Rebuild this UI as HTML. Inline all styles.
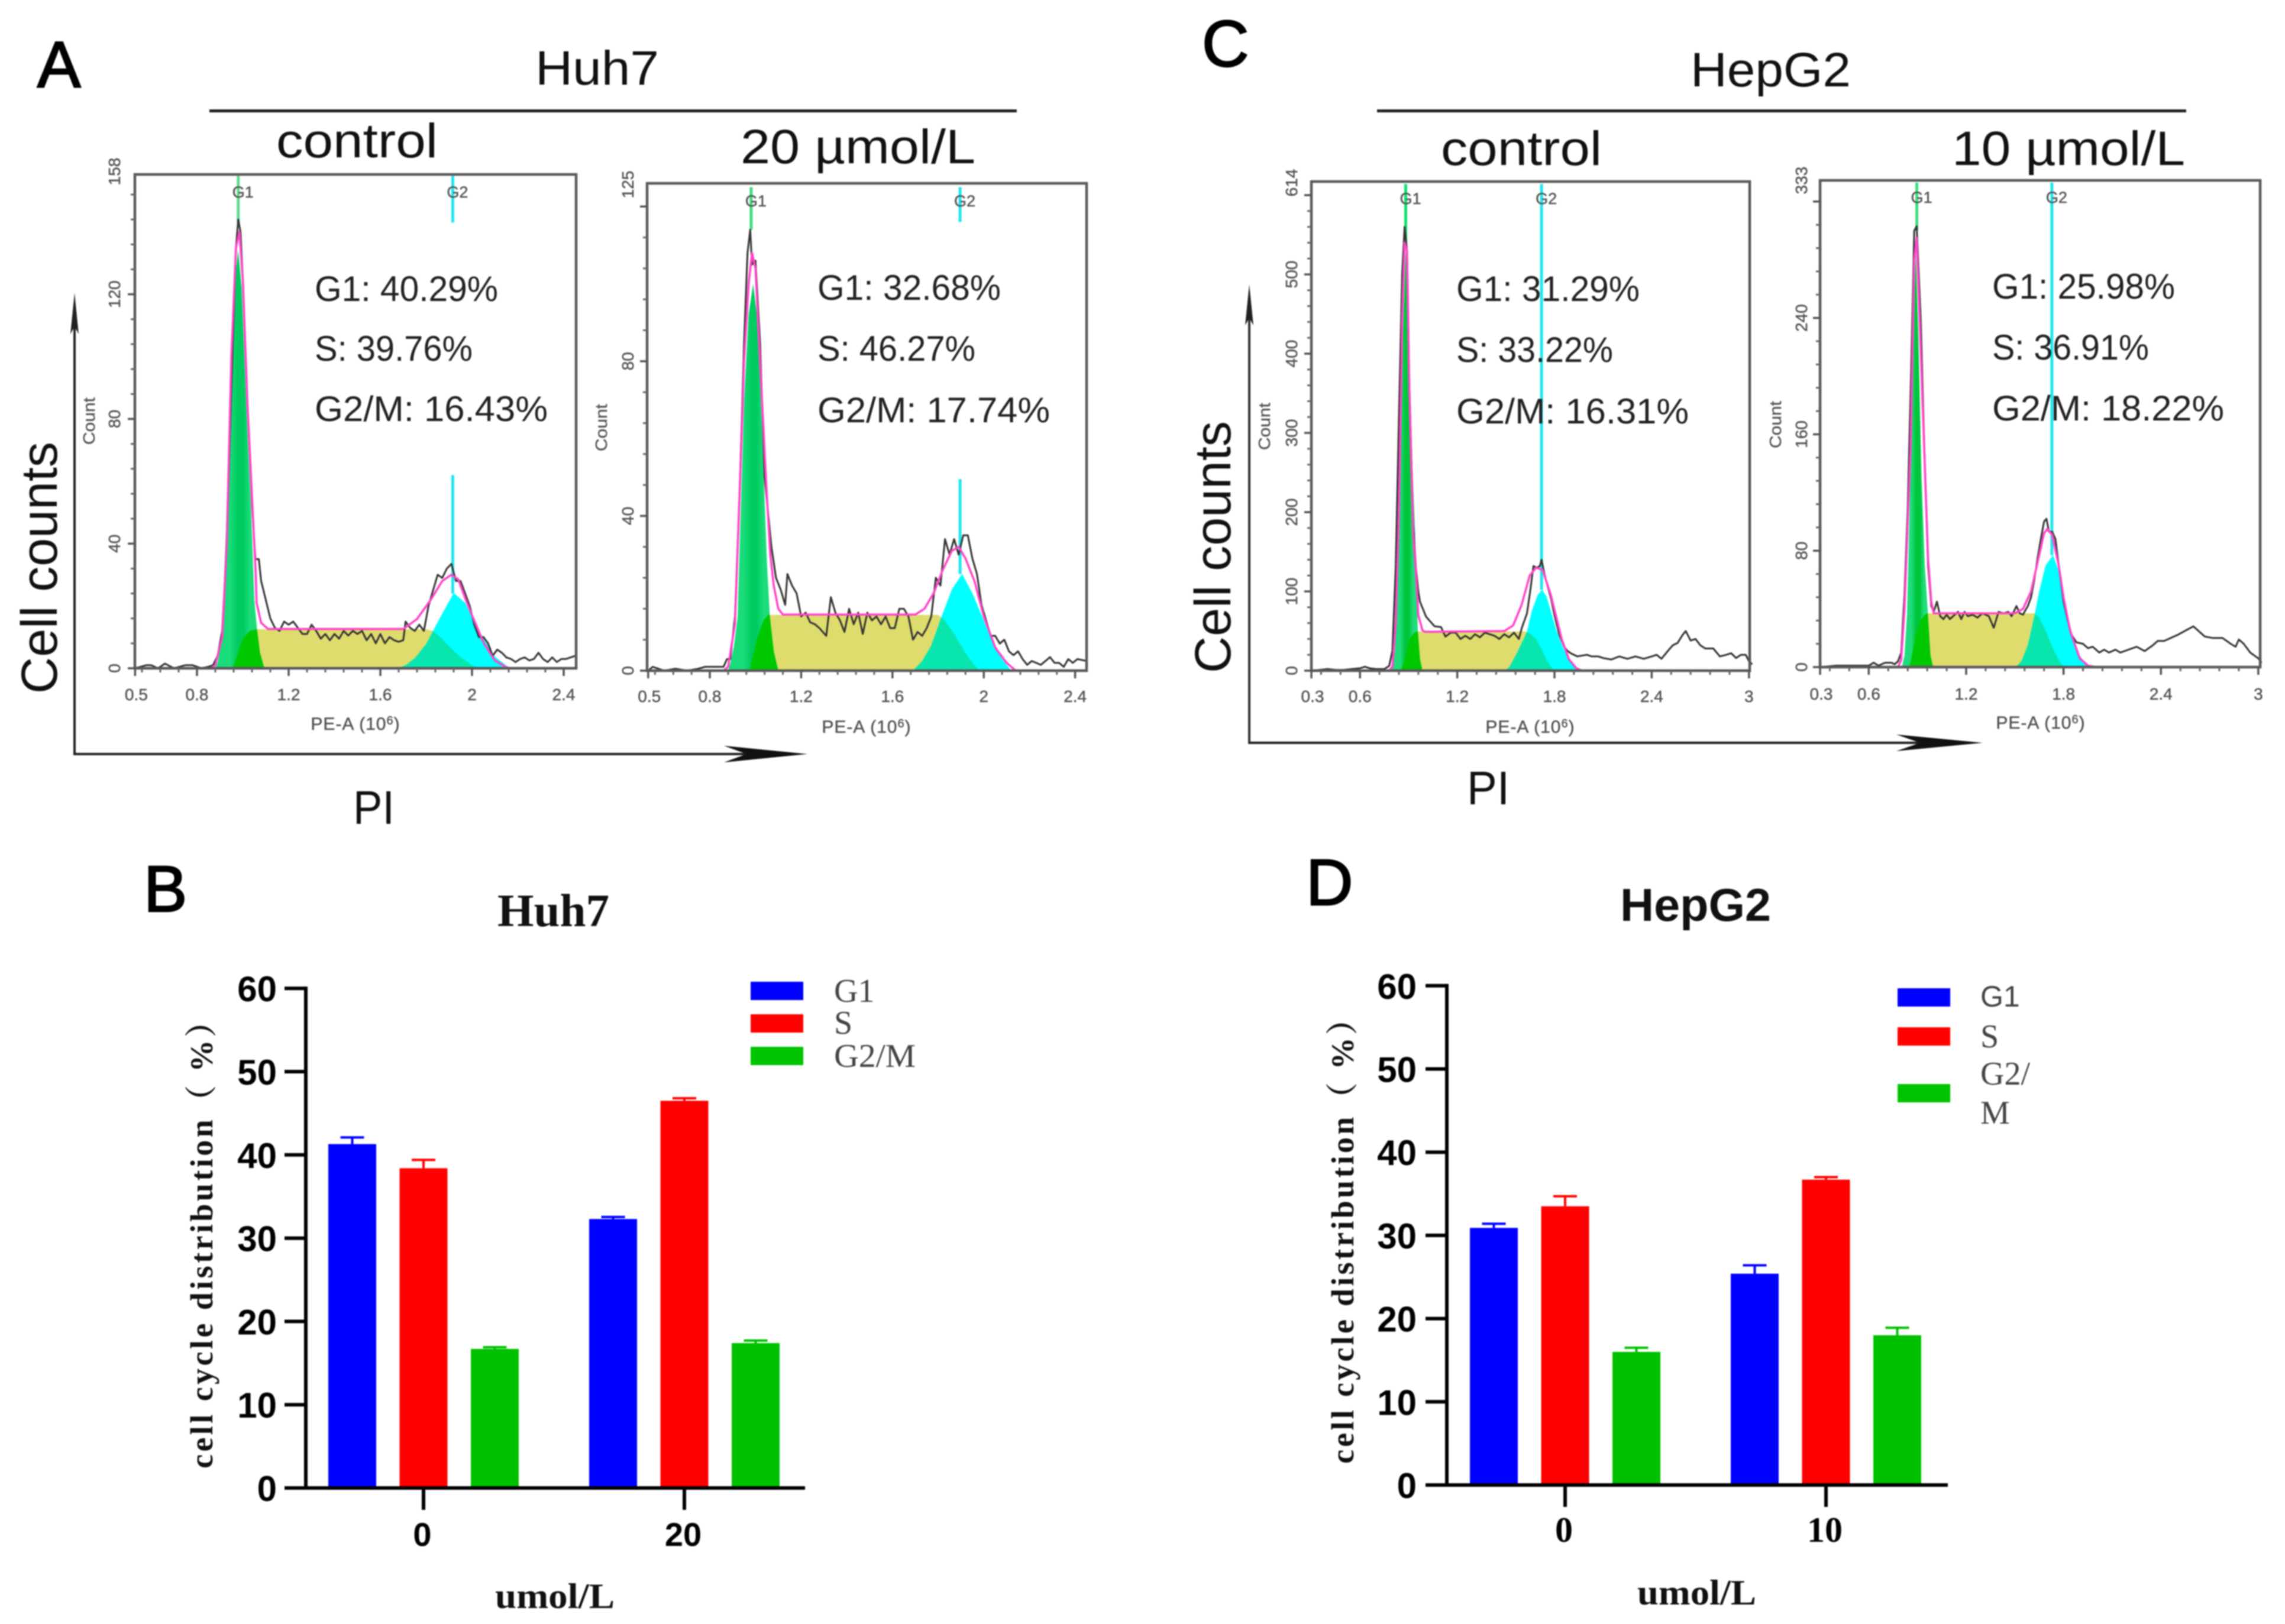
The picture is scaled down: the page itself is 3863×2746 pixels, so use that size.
<!DOCTYPE html>
<html lang="en">
<head>
<meta charset="utf-8">
<title>Cell cycle distribution in Huh7 and HepG2 cells</title>
<style>
html,body{margin:0;padding:0;background:#fff;}
#figure{display:block;width:3863px;height:2746px;background:#fff;filter:blur(1.1px);}
text{font-family:"Liberation Sans","Noto Sans CJK SC",sans-serif;}
.serif{font-family:"Liberation Serif","Noto Serif CJK SC",serif;font-weight:700;}
.annot{font-size:60px;fill:#222;}
.head{font-size:82px;fill:#111;}
.big{font-size:86px;fill:#111;}
.letter{font-size:110px;fill:#000;stroke:#000;stroke-width:2.5px;}
.peax{font-size:30px;fill:#555;letter-spacing:1px;stroke:#555;stroke-width:.5px;}
.count{font-size:28px;fill:#555;stroke:#555;stroke-width:.4px;}
.flowtick{fill:#555;stroke:#555;stroke-width:.5px;}
.bold{font-weight:700;fill:#000;}
.legend{font-size:56px;fill:#444;}
</style>
</head>
<body>
<svg id="figure" xmlns="http://www.w3.org/2000/svg" width="3863" height="2746" viewBox="0 0 3863 2746">
  <rect width="3863" height="2746" fill="#fff"/>

  <g id="flowLayer"></g>
  <g id="barLayer"></g>

  <!-- Panel letters -->
  <text class="letter" x="63" y="147">A</text>
  <text class="letter" x="243" y="1541">B</text>
  <text class="letter" x="2032" y="112">C</text>
  <text class="letter" x="2208" y="1530">D</text>

  <!-- Panel A heading -->
  <text class="head" x="905" y="143" textLength="209" lengthAdjust="spacingAndGlyphs">Huh7</text>
  <rect x="354" y="185" width="1365" height="5" fill="#222"/>
  <text class="head" x="467" y="266" textLength="273" lengthAdjust="spacingAndGlyphs">control</text>
  <text class="head" x="1252" y="276" textLength="397" lengthAdjust="spacingAndGlyphs">20 µmol/L</text>

  <!-- Panel C heading -->
  <text class="head" x="2858" y="146" textLength="271" lengthAdjust="spacingAndGlyphs">HepG2</text>
  <rect x="2328" y="185" width="1368" height="5" fill="#222"/>
  <text class="head" x="2436" y="279" textLength="272" lengthAdjust="spacingAndGlyphs">control</text>
  <text class="head" x="3300" y="279" textLength="394" lengthAdjust="spacingAndGlyphs">10 µmol/L</text>

  <!-- Percent annotations -->
  <g>
    <text class="annot" x="532" y="509" textLength="310" lengthAdjust="spacingAndGlyphs">G1: 40.29%</text>
    <text class="annot" x="532" y="610" textLength="267" lengthAdjust="spacingAndGlyphs">S: 39.76%</text>
    <text class="annot" x="532" y="712" textLength="394" lengthAdjust="spacingAndGlyphs">G2/M: 16.43%</text>
  </g>
  <g>
    <text class="annot" x="1382" y="507" textLength="310" lengthAdjust="spacingAndGlyphs">G1: 32.68%</text>
    <text class="annot" x="1382" y="610" textLength="267" lengthAdjust="spacingAndGlyphs">S: 46.27%</text>
    <text class="annot" x="1382" y="714" textLength="393" lengthAdjust="spacingAndGlyphs">G2/M: 17.74%</text>
  </g>
  <g>
    <text class="annot" x="2462" y="509" textLength="310" lengthAdjust="spacingAndGlyphs">G1: 31.29%</text>
    <text class="annot" x="2462" y="612" textLength="265" lengthAdjust="spacingAndGlyphs">S: 33.22%</text>
    <text class="annot" x="2462" y="716" textLength="393" lengthAdjust="spacingAndGlyphs">G2/M: 16.31%</text>
  </g>
  <g>
    <text class="annot" x="3368" y="505" textLength="309" lengthAdjust="spacingAndGlyphs">G1: 25.98%</text>
    <text class="annot" x="3368" y="608" textLength="265" lengthAdjust="spacingAndGlyphs">S: 36.91%</text>
    <text class="annot" x="3368" y="711" textLength="392" lengthAdjust="spacingAndGlyphs">G2/M: 18.22%</text>
  </g>

  <!-- Outer arrows, panel A -->
  <g>
    <rect x="124" y="530" width="4" height="747" fill="#222"/>
    <polygon points="126,495 133,565 126,552 119,565" fill="#222"/>
    <rect x="126" y="1273" width="1150" height="4" fill="#222"/>
    <polygon points="1365,1275 1224,1289 1262,1275 1224,1261" fill="#111"/>
    <text class="big" transform="translate(96 1173) rotate(-90)" textLength="426" lengthAdjust="spacingAndGlyphs">Cell counts</text>
    <text x="597" y="1393" font-size="80" fill="#111" textLength="70" lengthAdjust="spacingAndGlyphs">PI</text>
  </g>

  <!-- Outer arrows, panel C -->
  <g>
    <rect x="2110" y="515" width="4" height="743" fill="#333"/>
    <polygon points="2112,481 2119,550 2112,538 2105,550" fill="#222"/>
    <rect x="2112" y="1254" width="1160" height="4" fill="#222"/>
    <polygon points="3352,1256 3206,1270 3246,1256 3206,1242" fill="#111"/>
    <text class="big" transform="translate(2080 1138) rotate(-90)" textLength="426" lengthAdjust="spacingAndGlyphs">Cell counts</text>
    <text x="2480" y="1360" font-size="80" fill="#111" textLength="72" lengthAdjust="spacingAndGlyphs">PI</text>
  </g>

  <!-- Panel B static labels -->
  <g>
    <text class="serif" x="841" y="1566" font-size="78" fill="#111" textLength="189" lengthAdjust="spacingAndGlyphs">Huh7</text>
    <text class="serif" transform="translate(359 2483) rotate(-90)" font-size="54" fill="#111" textLength="783" lengthAdjust="spacing">cell cycle distribution（ %）</text>
    <text class="serif" x="837" y="2719" font-size="60" fill="#111" textLength="202" lengthAdjust="spacingAndGlyphs">umol/L</text>
    <rect x="1269" y="1660" width="89" height="31" fill="#0000ff"/>
    <rect x="1269" y="1715" width="89" height="31" fill="#ff0000"/>
    <rect x="1269" y="1770" width="89" height="31" fill="#00c400"/>
    <text class="legend" x="1410" y="1694" style="font-family:'Liberation Serif',serif">G1</text>
    <text class="legend" x="1410" y="1748" style="font-family:'Liberation Serif',serif">S</text>
    <text class="legend" x="1410" y="1804" textLength="138" lengthAdjust="spacingAndGlyphs" style="font-family:'Liberation Serif',serif">G2/M</text>
  </g>

  <!-- Panel D static labels -->
  <g>
    <text x="2739" y="1557" font-size="78" font-weight="700" fill="#111" textLength="255" lengthAdjust="spacingAndGlyphs">HepG2</text>
    <text class="serif" transform="translate(2288 2475) rotate(-90)" font-size="54" fill="#111" textLength="779" lengthAdjust="spacing">cell cycle distribution（ %）</text>
    <text class="serif" x="2768" y="2713" font-size="60" fill="#111" textLength="201" lengthAdjust="spacingAndGlyphs">umol/L</text>
    <rect x="3208" y="1671" width="89" height="31" fill="#0000ff"/>
    <rect x="3208" y="1737" width="89" height="31" fill="#ff0000"/>
    <rect x="3208" y="1833" width="89" height="31" fill="#00c400"/>
    <text class="legend" x="3348" y="1702" style="font-size:50px">G1</text>
    <text class="legend" x="3348" y="1771" style="font-family:'Liberation Serif',serif">S</text>
    <text class="legend" x="3348" y="1834" style="font-family:'Liberation Serif',serif">G2/</text>
    <text class="legend" x="3348" y="1900" style="font-family:'Liberation Serif',serif">M</text>
  </g>
</svg>

<script>
/* ---------- Flow histogram data: [PE-A (10^6), count] ---------- */
const huh7CtrlTrace = [[.53,0],[.58,1],[.6,1],[.63,0],[.66,1.5],[.7,0],[.75,1],[.78,1],[.82,0],[.85,.5],[.87,1],[.89,4],[.91,12],[.93,40],[.95,90],[.97,135],[.98,144],[.99,140],[1,125],[1.02,85],[1.04,52],[1.055,35],[1.07,35],[1.08,28],[1.1,22],[1.12,16],[1.14,13],[1.16,12],[1.18,15],[1.2,14],[1.22,15],[1.24,13],[1.26,11],[1.28,11],[1.3,14],[1.32,12],[1.34,9.5],[1.36,11],[1.38,9],[1.4,11],[1.42,9.5],[1.44,12],[1.46,10.5],[1.48,12],[1.5,11],[1.52,12],[1.54,9],[1.56,11],[1.58,8],[1.6,11],[1.62,8],[1.64,10],[1.66,9],[1.68,8.5],[1.7,9],[1.71,15],[1.73,13],[1.75,12],[1.77,14],[1.79,12],[1.81,20],[1.83,25],[1.85,30],[1.87,29],[1.89,32],[1.91,33.5],[1.93,28],[1.95,28],[1.97,24],[1.99,20],[2.01,14],[2.03,10],[2.05,10],[2.07,8],[2.09,4],[2.11,6],[2.13,5],[2.15,3.5],[2.17,3],[2.19,2],[2.21,3],[2.23,3.5],[2.25,2.5],[2.27,3],[2.29,5],[2.31,3],[2.33,2],[2.35,3.5],[2.37,2],[2.39,3],[2.41,3],[2.45,4]];
const huh7CtrlFit = [[.53,0],[.86,0],[.88,1],[.91,10],[.93,40],[.95,100],[.97,135],[.985,140],[1,125],[1.02,85],[1.048,43],[1.056,31],[1.06,21],[1.08,14.6],[1.11,12.6],[1.7,12.6],[1.76,15.8],[1.82,22],[1.87,28],[1.91,30],[1.94,28.5],[1.97,22.5],[2,17],[2.05,8.2],[2.1,2.5],[2.15,.3],[2.17,0]];
const huh7CtrlG1 = [[.88,0],[.89,2],[.9,6],[.912,18],[.926,44],[.945,90],[.965,125],[.98,134],[.995,122],[1.015,85],[1.04,43],[1.05,22],[1.062,12.5],[1.075,5],[1.094,0]];
const huh7CtrlS = [[.955,0],[.97,3],[.985,6.5],[1,9.5],[1.03,12],[1.056,12.5],[1.8,12.5],[1.83,12],[1.87,9.5],[1.9,7],[1.948,3.7],[2,1],[2.03,0]];
const huh7CtrlG2 = [[1.678,0],[1.715,1.2],[1.752,3.4],[1.8,7.8],[1.83,12],[1.87,17.5],[1.92,24.2],[1.97,21],[2,16.5],[2.05,9.5],[2.1,3.7],[2.166,0]];
const huh7CtrlG1Gate = [[158,143]];
const huh7CtrlG2Gate = [[158,143],[62,24]];

const huh7DoseTrace = [[.53,0],[.55,1],[.6,0],[.65,.5],[.7,0],[.75,.5],[.78,1],[.82,1],[.86,1],[.875,3],[.89,3],[.91,14],[.93,45],[.95,85],[.965,108],[.977,114],[.985,105],[1,106],[1.02,85],[1.04,50],[1.05,44],[1.07,32],[1.09,24],[1.11,21],[1.13,17],[1.14,25],[1.16,22],[1.18,20],[1.2,14],[1.22,15],[1.24,12.5],[1.26,12],[1.28,11],[1.31,9],[1.33,19],[1.35,15],[1.37,13],[1.39,10],[1.41,16],[1.43,12],[1.45,15],[1.47,9.5],[1.49,15],[1.51,13],[1.53,14],[1.55,12],[1.57,14],[1.59,11],[1.61,11],[1.63,16],[1.65,16],[1.67,14],[1.69,8],[1.71,10],[1.73,9],[1.75,11],[1.77,14],[1.79,24],[1.81,22],[1.83,34],[1.85,30],[1.87,34],[1.89,30],[1.91,35],[1.93,35],[1.95,29],[1.97,25],[1.99,17],[2.01,13],[2.03,9],[2.05,9],[2.07,7],[2.09,8],[2.11,5],[2.13,4],[2.15,5],[2.17,3],[2.19,1.5],[2.21,2.5],[2.23,2],[2.25,1.5],[2.27,2.5],[2.29,3.5],[2.31,2],[2.33,2],[2.35,1],[2.37,3],[2.39,2],[2.41,3],[2.45,2.5]];
const huh7DoseFit = [[.53,0],[.86,0],[.88,1],[.91,12],[.93,45],[.95,80],[.97,100],[.985,108],[1,104],[1.02,80],[1.05,45],[1.065,30],[1.08,22],[1.1,16],[1.12,14.5],[1.7,14.5],[1.74,16],[1.78,20],[1.82,26],[1.86,31],[1.89,32],[1.92,29],[1.96,23],[2,14],[2.05,6],[2.1,2],[2.14,0]];
const huh7DoseG1 = [[.88,0],[.89,2],[.905,6],[.922,14],[.935,40],[.95,70],[.97,92],[.99,100],[1.01,90],[1.03,60],[1.05,28],[1.063,14],[1.08,5],[1.1,0]];
const huh7DoseS = [[.975,0],[.99,4],[1.01,9],[1.035,13],[1.056,14.4],[1.8,14.4],[1.83,13],[1.87,9.5],[1.91,5.5],[1.95,2],[1.98,0]];
const huh7DoseG2 = [[1.69,0],[1.73,2.5],[1.77,6.5],[1.815,14],[1.86,21],[1.905,25],[1.95,20],[1.993,14],[2.04,7],[2.08,3],[2.12,0]];
const huh7DoseG1Gate = [[125,114]];
const huh7DoseG2Gate = [[125,116],[49.5,25]];

const hepg2CtrlTrace = [[.3,0],[.35,1],[.4,2],[.45,1],[.5,1],[.55,2],[.6,3],[.63,5],[.66,3],[.7,2],[.75,2],[.78,6],[.8,25],[.82,130],[.84,320],[.86,500],[.875,560],[.89,530],[.905,360],[.928,185],[.945,130],[.96,100],[.97,87],[1.008,68],[1.06,56],[1.1,55],[1.127,43],[1.16,48],[1.19,48],[1.22,40],[1.25,44],[1.28,40],[1.31,46],[1.34,42],[1.37,48],[1.4,46],[1.43,44],[1.46,40],[1.49,46],[1.52,42],[1.55,48],[1.58,40],[1.6,55],[1.63,72],[1.65,100],[1.67,132],[1.69,130],[1.71,132],[1.72,140],[1.74,120],[1.76,105],[1.78,90],[1.8,70],[1.83,45],[1.86,30],[1.88,25],[1.9,22],[1.94,18],[2,20],[2.03,18],[2.07,18],[2.1,16],[2.15,14],[2.2,18],[2.25,15],[2.3,18],[2.35,15],[2.4,18],[2.43,20],[2.46,15],[2.5,25],[2.53,32],[2.56,35],[2.59,45],[2.61,50],[2.64,38],[2.67,40],[2.7,32],[2.73,28],[2.78,28],[2.82,18],[2.86,20],[2.89,22],[2.92,16],[2.95,20],[2.98,20],[3,12],[3.02,8]];
const hepg2CtrlFit = [[.3,0],[.78,0],[.8,5],[.82,60],[.84,200],[.86,440],[.875,540],[.89,530],[.905,350],[.928,173],[.945,125],[.96,70],[.985,51],[1,49],[1.49,50],[1.545,57],[1.597,83],[1.647,120],[1.687,130],[1.727,127],[1.778,95],[1.844,40],[1.89,14],[1.935,3],[1.97,0]];
const hepg2CtrlG1 = [[.79,0],[.8,4],[.815,25],[.83,90],[.84,174],[.86,400],[.882,530],[.895,480],[.915,300],[.94,174],[.957,50],[.97,15],[.985,0]];
const hepg2CtrlS = [[.853,0],[.875,14],[.89,28],[.906,40],[.93,47],[.95,49.5],[1.62,49.5],[1.65,47],[1.687,40],[1.72,27],[1.753,13],[1.78,4],[1.8,0]];
const hepg2CtrlG2 = [[1.49,0],[1.52,4],[1.57,23],[1.61,40],[1.63,49],[1.66,75],[1.695,95],[1.723,102],[1.75,94],[1.778,75],[1.81,52],[1.844,33],[1.89,13],[1.935,3],[1.96,0]];
const hepg2CtrlG1Gate = [[614,540]];
const hepg2CtrlG2Gate = [[614,102]];

const hepg2DoseTrace = [[.3,0],[.4,1],[.5,1],[.55,1],[.6,1],[.63,3],[.66,1],[.7,3],[.74,3],[.76,2],[.78,4],[.8,10],[.82,50],[.84,110],[.86,200],[.88,300],[.895,303],[.92,240],[.945,140],[.965,70],[.985,42],[1,38],[1.02,45],[1.04,35],[1.06,33],[1.08,36],[1.1,33],[1.12,35],[1.15,38],[1.17,33],[1.19,38],[1.21,35],[1.24,36],[1.27,34],[1.3,37],[1.34,35],[1.37,27],[1.4,38],[1.43,37],[1.46,38],[1.48,35],[1.51,42],[1.53,37],[1.55,36],[1.58,42],[1.6,48],[1.62,60],[1.64,75],[1.66,88],[1.68,100],[1.695,102],[1.71,93],[1.73,93],[1.75,88],[1.77,70],[1.8,45],[1.83,30],[1.85,22],[1.88,17],[1.92,16],[1.95,13],[1.98,14],[2.02,10],[2.05,12],[2.08,10],[2.12,12],[2.15,10],[2.2,12],[2.25,14],[2.3,11],[2.35,15],[2.38,18],[2.42,18],[2.46,20],[2.5,22],[2.55,25],[2.6,28],[2.63,25],[2.67,21],[2.72,20],[2.78,20],[2.83,16],[2.86,14],[2.88,19],[2.91,16],[2.95,10],[3,6],[3.02,3]];
const hepg2DoseFit = [[.3,0],[.78,0],[.8,5],[.82,40],[.84,100],[.857,149],[.88,280],[.895,295],[.91,250],[.942,149],[.965,75],[.985,45],[1,37],[1.5,37],[1.55,40],[1.6,52],[1.64,72],[1.68,92],[1.7,95],[1.73,91],[1.77,70],[1.8,48],[1.84,25],[1.9,6],[1.95,1],[2,0]];
const hepg2DoseG1 = [[.804,0],[.82,8],[.836,37],[.85,100],[.87,220],[.89,285],[.905,230],[.925,130],[.945,70],[.964,37],[.98,8],[.996,0]];
const hepg2DoseS = [[.85,0],[.87,10],[.89,22],[.92,32],[.945,36],[.964,37],[1.62,37],[1.65,34],[1.69,25],[1.73,14],[1.77,5],[1.8,0]];
const hepg2DoseG2 = [[1.506,0],[1.54,4],[1.58,15],[1.62,35],[1.65,52],[1.69,70],[1.736,77],[1.77,66],[1.81,44],[1.85,24],[1.9,8],[1.94,2],[1.97,0]];
const hepg2DoseG1Gate = [[333,300]];
const hepg2DoseG2Gate = [[333,77]];

/* Axis tick values and labels */
const huh7XTicks = [.53,.8,1.2,1.6,2,2.4];
const huh7XLabels = ['0.5','0.8','1.2','1.6','2','2.4'];
const hepg2XTicks = [.3,.6,1.2,1.8,2.4,3];
const hepg2XLabels = ['0.3','0.6','1.2','1.8','2.4','3'];
const huh7CtrlYTicks = [0,40,80,120];
const huh7CtrlYLabels = ['0','40','80','120'];
const huh7DoseYTicks = [0,40,80,120];
const huh7DoseYLabels = ['0','40','80',''];
const hepg2CtrlYTicks = [0,100,200,300,400,500,600];
const hepg2CtrlYLabels = ['0','100','200','300','400','500',''];
const hepg2DoseYTicks = [0,80,160,240,320];
const hepg2DoseYLabels = ['0','80','160','240',''];

/* ---------- Bar chart data ---------- */
const phases = ['G1','S','G2/M'];
const huh7Doses = ['0','20'];
const huh7G1 = [41.3,32.3];
const huh7S = [38.4,46.5];
const huh7G2M = [16.7,17.4];
const huh7G1Err = [.8,.25];
const huh7SErr = [1.0,.3];
const huh7G2MErr = [.2,.3];
const hepg2Doses = ['0','10'];
const hepg2G1 = [30.9,25.4];
const hepg2S = [33.5,36.7];
const hepg2G2M = [16.0,18.0];
const hepg2G1Err = [.5,1.0];
const hepg2SErr = [1.2,.3];
const hepg2G2MErr = [.5,.9];
const barYTicks = [0,10,20,30,40,50,60];

/* ---------- Helpers ---------- */
const NS = 'http://www.w3.org/2000/svg';
const flowLayer = document.getElementById('flowLayer');
const barLayer = document.getElementById('barLayer');
function mk(tag, attrs, parent){
  const e = document.createElementNS(NS, tag);
  for (const k in attrs) e.setAttribute(k, attrs[k]);
  parent.appendChild(e);
  return e;
}
let uid = 0;
function areaPath(pts, xf, yf){
  const base = yf(0);
  let d = 'M' + xf(pts[0][0]).toFixed(1) + ' ' + base.toFixed(1);
  pts.forEach(p => { d += 'L' + xf(p[0]).toFixed(1) + ' ' + yf(p[1]).toFixed(1); });
  d += 'L' + xf(pts[pts.length-1][0]).toFixed(1) + ' ' + base.toFixed(1) + 'Z';
  return d;
}
function linePath(pts, xf, yf){
  return pts.map((p,i) => (i?'L':'M') + xf(p[0]).toFixed(1) + ' ' + yf(p[1]).toFixed(1)).join('');
}

/* ---------- Flow panel renderer ---------- */
function drawFlow(p){
  const xf = v => p.xAnchorPx + (v - p.xAnchorVal) * p.kx;
  const yf = c => p.bottom - c * p.ky;
  const g = mk('g', {}, flowLayer);
  
  

  uid++;
  const defs = mk('defs', {}, g);
  const clip = mk('clipPath', {id:'sclip'+uid}, defs);
  mk('path', {d: areaPath(p.s, xf, yf)}, clip);
  const grad = mk('linearGradient', {id:'g1grad'+uid, gradientUnits:'userSpaceOnUse',
    x1: xf(p.g1[0][0]), x2: xf(p.g1[p.g1.length-1][0]), y1:0, y2:0}, defs);
  [[0,p.edge],[.3,p.edge],[.45,p.core],[.58,p.core],[.7,p.edge],[1,p.edge]].forEach(s => {
    mk('stop', {offset:s[0], 'stop-color':s[1]}, grad);
  });

  const sFill = mk('path', {d: areaPath(p.s, xf, yf), fill:'#dfdc6e'}, g);
  
  

  const g1Fill = mk('path', {d: areaPath(p.g1, xf, yf), fill:'url(#g1grad'+uid+')'}, g);
  
  

  const g2Fill = mk('path', {d: areaPath(p.g2, xf, yf), fill:'#00ffff'}, g);
  
  

  const g1Over = mk('path', {d: areaPath(p.g1, xf, yf), fill:'#00c800', 'clip-path':'url(#sclip'+uid+')'}, g);
  
  

  const g2Over = mk('path', {d: areaPath(p.g2, xf, yf), fill:'#08e6ae', 'clip-path':'url(#sclip'+uid+')'}, g);
  
  

  p.g1Gate.forEach(seg => {
    const l = mk('line', {x1:xf(p.g1X), x2:xf(p.g1X), y1:yf(seg[0]), y2:yf(seg[1]), stroke:p.g1LineColor, 'stroke-width':5}, g);
    
    
  });
  p.g2Gate.forEach(seg => {
    const l = mk('line', {x1:xf(p.g2X), x2:xf(p.g2X), y1:yf(seg[0]), y2:yf(seg[1]), stroke:'#1fe6ee', 'stroke-width':5}, g);
    
    
  });

  const trace = mk('path', {d: linePath(p.trace, xf, yf), fill:'none', stroke:'#333', 'stroke-width':3, 'stroke-linejoin':'round'}, g);
  
  

  const fit = mk('path', {d: linePath(p.fit, xf, yf), fill:'none', stroke:'#ff45c8', 'stroke-width':3.6, 'stroke-linejoin':'round'}, g);
  
  

  const box = mk('rect', {x:p.left, y:p.top, width:p.right-p.left, height:p.bottom-p.top, fill:'none', stroke:'#5a5a5a', 'stroke-width':4.5}, g);
  
  

  /* minor ticks: five subdivisions of the major spacing, out to the frame */
  const xStep = (p.xTicks[2] - p.xTicks[1]) / 5;
  const xStart = p.xTicks[1] - Math.floor((xf(p.xTicks[1]) - p.left) / (xStep * p.kx)) * xStep;
  for (let v = xStart; xf(v) <= p.right + 1; v += xStep) {
    const m = mk('line', {x1:xf(v), x2:xf(v), y1:p.bottom, y2:p.bottom+7, stroke:'#666', 'stroke-width':3}, g);
    
    
  }
  const yStep = (p.yTicks[1] - p.yTicks[0]) / 5;
  for (let v = 0; yf(v) >= p.top - 1; v += yStep) {
    const m = mk('line', {x1:p.left-7, x2:p.left, y1:yf(v), y2:yf(v), stroke:'#666', 'stroke-width':3}, g);
    
    
  }

  /* x ticks */
  p.xTicks.forEach((v,i) => {
    const t = mk('line', {x1:xf(v), x2:xf(v), y1:p.bottom, y2:p.bottom+13, stroke:'#555', 'stroke-width':3.5}, g);
    
    
    const lab = mk('text', {x:xf(v)+(i===0?2:0), y:p.xLabelY+10, 'text-anchor':'middle', 'font-size':28, class:'flowtick'}, g);
    lab.textContent = p.xLabels[i];
    
    
  });
  /* y ticks */
  p.yTicks.forEach((v,i) => {
    const t = mk('line', {x1:p.left-12, x2:p.left, y1:yf(v), y2:yf(v), stroke:'#555', 'stroke-width':3.5}, g);
    
    
    if (p.yLabels[i]) {
      const lab = mk('text', {transform:'translate('+(p.yLabelX+10)+' '+yf(v)+') rotate(-90)', 'text-anchor':'middle', 'font-size':28, class:'flowtick'}, g);
      lab.textContent = p.yLabels[i];
      
      
    }
  });
  const topLab = mk('text', {transform:'translate('+(p.yLabelX+10)+' '+p.topLabelY+') rotate(-90)', 'text-anchor':'middle', 'font-size':28, class:'flowtick'}, g);
  topLab.textContent = p.topLabel;
  
  

  const count = mk('text', {transform:'translate('+(p.countX+10)+' '+p.countY+') rotate(-90)', 'text-anchor':'middle', class:'count', textLength:80, lengthAdjust:'spacingAndGlyphs'}, g);
  count.textContent = 'Count';
  
  

  const pe = mk('text', {x:p.peX, y:p.peY+11, 'text-anchor':'middle', class:'peax'}, g);
  
  
  pe.appendChild(document.createTextNode('PE-A (10'));
  const sup = mk('tspan', {dy:-9, 'font-size':20}, pe);
  sup.textContent = '6';
  const close = mk('tspan', {dy:9}, pe);
  close.textContent = ')';

  const g1Lab = mk('text', {x:xf(p.g1X)+8, y:p.gateLabelY+10, 'text-anchor':'middle', 'font-size':27, class:'flowtick'}, g);
  g1Lab.textContent = 'G1';
  
  

  const g2Lab = mk('text', {x:xf(p.g2X)+8, y:p.gateLabelY+10, 'text-anchor':'middle', 'font-size':27, class:'flowtick'}, g);
  g2Lab.textContent = 'G2';
  
  
}

drawFlow({left:228,right:974,top:295,bottom:1130,xAnchorVal:.8,xAnchorPx:333,kx:387.5,ky:5.27,
  trace:huh7CtrlTrace,fit:huh7CtrlFit,g1:huh7CtrlG1,s:huh7CtrlS,g2:huh7CtrlG2,g1Gate:huh7CtrlG1Gate,g2Gate:huh7CtrlG2Gate,g1X:.98,g2X:1.916,
  xTicks:huh7XTicks,xLabels:huh7XLabels,yTicks:huh7CtrlYTicks,yLabels:huh7CtrlYLabels,topLabel:'158',topLabelY:290,
  yLabelX:193,countX:150,countY:712,xLabelY:1174,peX:601,peY:1223,gateLabelY:324,edge:'#1adc7a',core:'#00cc60',g1LineColor:'#5fd98f'});
drawFlow({left:1094,right:1837,top:310,bottom:1134,xAnchorVal:.8,xAnchorPx:1200,kx:386,ky:6.54,
  trace:huh7DoseTrace,fit:huh7DoseFit,g1:huh7DoseG1,s:huh7DoseS,g2:huh7DoseG2,g1Gate:huh7DoseG1Gate,g2Gate:huh7DoseG2Gate,g1X:.981,g2X:1.896,
  xTicks:huh7XTicks,xLabels:huh7XLabels,yTicks:huh7DoseYTicks,yLabels:huh7DoseYLabels,topLabel:'125',topLabelY:312,
  yLabelX:1061,countX:1016,countY:723,xLabelY:1177,peX:1465,peY:1228,gateLabelY:339,edge:'#1adc7a',core:'#00cc60',g1LineColor:'#3fd97f'});
drawFlow({left:2217,right:2958,top:307,bottom:1134,xAnchorVal:.3,xAnchorPx:2217,kx:274,ky:1.34,
  trace:hepg2CtrlTrace,fit:hepg2CtrlFit,g1:hepg2CtrlG1,s:hepg2CtrlS,g2:hepg2CtrlG2,g1Gate:hepg2CtrlG1Gate,g2Gate:hepg2CtrlG2Gate,g1X:.882,g2X:1.72,
  xTicks:hepg2XTicks,xLabels:hepg2XLabels,yTicks:hepg2CtrlYTicks,yLabels:hepg2CtrlYLabels,topLabel:'614',topLabelY:309,
  yLabelX:2183,countX:2137,countY:721,xLabelY:1177,peX:2587,peY:1228,gateLabelY:335,edge:'#1fdc7c',core:'#00c63c',g1LineColor:'#10e070'});
drawFlow({left:3077,right:3821,top:305,bottom:1128,xAnchorVal:.3,xAnchorPx:3077,kx:274.4,ky:2.46,
  trace:hepg2DoseTrace,fit:hepg2DoseFit,g1:hepg2DoseG1,s:hepg2DoseS,g2:hepg2DoseG2,g1Gate:hepg2DoseG1Gate,g2Gate:hepg2DoseG2Gate,g1X:.896,g2X:1.728,
  xTicks:hepg2XTicks,xLabels:hepg2XLabels,yTicks:hepg2DoseYTicks,yLabels:hepg2DoseYLabels,topLabel:'333',topLabelY:305,
  yLabelX:3045,countX:3001,countY:718,xLabelY:1173,peX:3450,peY:1221,gateLabelY:333,edge:'#1fdc7c',core:'#00c63c',g1LineColor:'#40dc80'});

/* ---------- Bar chart renderer ---------- */
function drawBars(c){
  const yf = v => c.y0 - v * c.kv;
  const gx = i => c.firstCenter + i * c.groupGap;
  const g = mk('g', {}, barLayer);
  
  

  const seriesColors = ['#0000ff','#ff0000','#00c000'];
  c.series.forEach((vals, s) => {
    vals.forEach((v, i) => {
      const cx = gx(i) + (s-1) * 120.5;
      const bar = mk('rect', {x:cx-40.5, y:yf(v), width:81, height:c.y0-yf(v), fill:seriesColors[s]}, g);
      
      

      const top = yf(v + c.errors[s][i]);
      const stem = mk('line', {x1:cx, x2:cx, y1:yf(v), y2:top, stroke:seriesColors[s], 'stroke-width':4}, g);
      
      

      const cap = mk('line', {x1:cx-20, x2:cx+20, y1:top, y2:top, stroke:seriesColors[s], 'stroke-width':4}, g);
      
      
    });
  });

  const yAxis = mk('line', {x1:c.axisX, x2:c.axisX, y1:yf(60)-3, y2:c.y0+3, stroke:'#000', 'stroke-width':6}, g);
  
  

  const xAxis = mk('line', {x1:c.axisX-36, x2:c.axisEnd, y1:c.y0, y2:c.y0, stroke:'#000', 'stroke-width':6}, g);
  
  

  barYTicks.forEach(v => {
    const t = mk('line', {x1:c.axisX-36, x2:c.axisX, y1:yf(v), y2:yf(v), stroke:'#000', 'stroke-width':6}, g);
    
    
    const lab = mk('text', {x:c.yLabelRight, y:yf(v)+22, 'text-anchor':'end', 'font-size':60, class:'bold'}, g);
    lab.textContent = String(v);
    
    
  });
  c.categories.forEach((label, i) => {
    const t = mk('line', {x1:gx(i), x2:gx(i), y1:c.y0, y2:c.y0+37, stroke:'#000', 'stroke-width':6}, g);
    
    
    const lab = mk('text', {x:gx(i)-2, y:c.xLabelY, 'text-anchor':'middle', 'font-size':c.xLabelSize, class:c.xLabelClass}, g);
    lab.textContent = label;
    
    
  });
}

drawBars({axisX:517,axisEnd:1361,y0:2516,kv:14.08,firstCenter:716,groupGap:441,yLabelRight:468,xLabelY:2614,xLabelSize:56,xLabelClass:'bold',
  categories:huh7Doses,series:[huh7G1,huh7S,huh7G2M],errors:[huh7G1Err,huh7SErr,huh7G2MErr]});
drawBars({axisX:2446,axisEnd:3293,y0:2511,kv:14.07,firstCenter:2646,groupGap:441,yLabelRight:2395,xLabelY:2607,xLabelSize:60,xLabelClass:'serif',
  categories:hepg2Doses,series:[hepg2G1,hepg2S,hepg2G2M],errors:[hepg2G1Err,hepg2SErr,hepg2G2MErr]});
</script>
</body>
</html>
